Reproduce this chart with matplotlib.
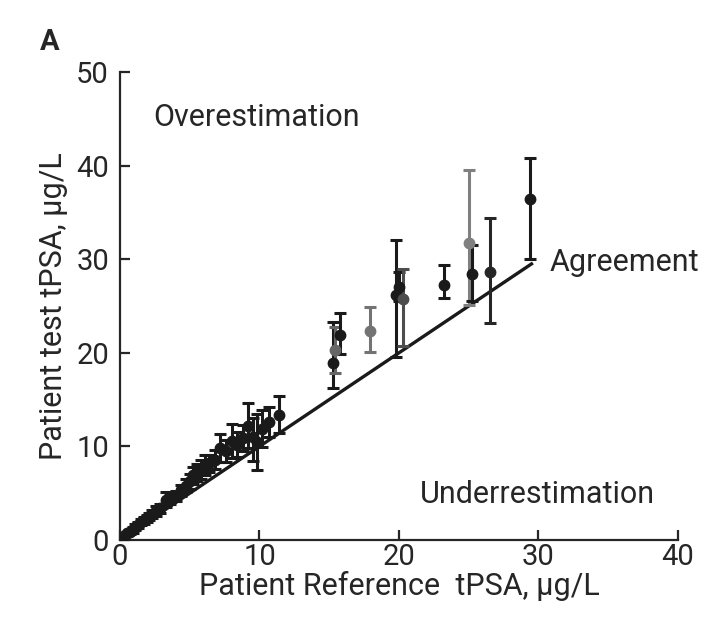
import numpy as np
import matplotlib.pyplot as plt

plt.rcParams['font.family'] = ['Roboto', 'DejaVu Sans']

# reference tPSA, mean test tPSA and error-bar limits (ug/L)
ref = [0.3, 0.5, 0.7, 0.9, 1.1, 1.3, 1.5, 1.7, 1.9, 2.1, 2.3, 2.6, 2.9,
       3.3, 3.6, 4.0, 4.4, 4.7, 5.0, 5.2, 5.5, 5.8, 6.1, 6.4, 6.8, 7.2,
       7.6, 8.0, 8.4, 8.8, 9.2, 9.5, 9.8, 10.2, 10.7, 11.4,
       15.3, 15.4, 15.8, 17.9, 19.8, 20.0, 20.3, 23.2, 25.0, 25.2, 26.5, 29.4]
test = [0.4, 0.7, 0.9, 1.1, 1.4, 1.6, 1.9, 2.1, 2.3, 2.5, 2.8, 3.1, 3.4,
        4.3, 4.4, 4.7, 5.3, 5.8, 6.3, 6.9, 7.2, 7.5, 8.0, 8.2, 8.6, 9.8,
        9.5, 10.6, 10.2, 10.9, 12.2, 11.0, 10.5, 11.9, 12.6, 13.4,
        18.9, 20.3, 21.9, 22.3, 26.2, 27.0, 25.8, 27.2, 31.7, 28.4, 28.6, 36.4]
low = [0.2, 0.5, 0.7, 0.8, 1.1, 1.3, 1.6, 1.7, 1.9, 2.1, 2.4, 2.6, 2.9,
       3.5, 3.8, 4.2, 4.7, 5.1, 5.5, 6.0, 6.3, 6.5, 6.9, 7.3, 7.6, 8.3,
       8.3, 8.8, 8.9, 9.5, 9.8, 8.4, 7.5, 9.9, 11.0, 11.4,
       16.2, 17.8, 19.9, 20.1, 19.6, 25.5, 20.7, 25.9, 25.1, 25.5, 23.2, 30.0]
high = [0.6, 0.9, 1.1, 1.4, 1.7, 1.9, 2.2, 2.5, 2.7, 2.9, 3.2, 3.6, 3.9,
        5.1, 5.0, 5.2, 5.9, 6.5, 7.1, 7.8, 8.1, 8.5, 9.1, 9.1, 9.6, 11.3,
        10.7, 12.4, 11.5, 12.3, 14.6, 13.0, 13.5, 13.9, 14.2, 15.4,
        23.3, 22.8, 24.3, 24.9, 32.1, 28.6, 29.0, 29.4, 39.5, 31.5, 34.4, 40.8]
shade = ['0.1'] * 36 + ['0.1', '0.4', '0.1', '0.45', '0.1', '0.1', '0.3', '0.1', '0.5', '0.1', '0.15', '0.1']

ref = np.array(ref)
test = np.array(test)
yerr = np.array([test - np.array(low), np.array(high) - test])

fig = plt.figure(figsize=(7.03, 6.23), dpi=100)
ax = fig.add_axes([0.1707, 0.1332, 0.7937, 0.7512])

for i in range(len(ref)):
    ax.errorbar(ref[i], test[i], yerr=yerr[:, i:i+1], fmt='o', color=shade[i],
                ms=7.5, capsize=4, elinewidth=2.2, capthick=2.2, zorder=3)

ax.plot([0, 29.5], [0, 29.5], color='0.1', lw=2.4, zorder=2)

ax.set_xlim(0, 40)
ax.set_ylim(0, 50)
ax.set_xticks([0, 10, 20, 30, 40])
ax.set_yticks([0, 10, 20, 30, 40, 50])
ax.spines['top'].set_visible(False)
ax.spines['right'].set_visible(False)
for s in ['left', 'bottom']:
    ax.spines[s].set_linewidth(1.6)
    ax.spines[s].set_color('0.15')
ax.tick_params(direction='in', length=7, width=1.6, labelsize=21, colors='0.15')
ax.tick_params(axis='y', pad=8)
ax.tick_params(axis='x', pad=2)

ax.set_xlabel('Patient Reference  tPSA, \u03bcg/L', fontsize=22, color='0.15', labelpad=0)
ax.set_ylabel('Patient test tPSA, \u03bcg/L', fontsize=22, color='0.15', labelpad=6)

ax.text(2.4, 45.1, 'Overestimation', fontsize=22, va='center', color='0.15')
ax.text(30.8, 29.6, 'Agreement', fontsize=22, va='center', color='0.15')
ax.text(21.5, 4.9, 'Underrestimation', fontsize=22, va='center', color='0.15')
fig.text(40 / 703, 1 - 42 / 623, 'A', fontsize=21, va='center', color='0.15', fontweight='bold')

fig.savefig('out.png', dpi=100)
